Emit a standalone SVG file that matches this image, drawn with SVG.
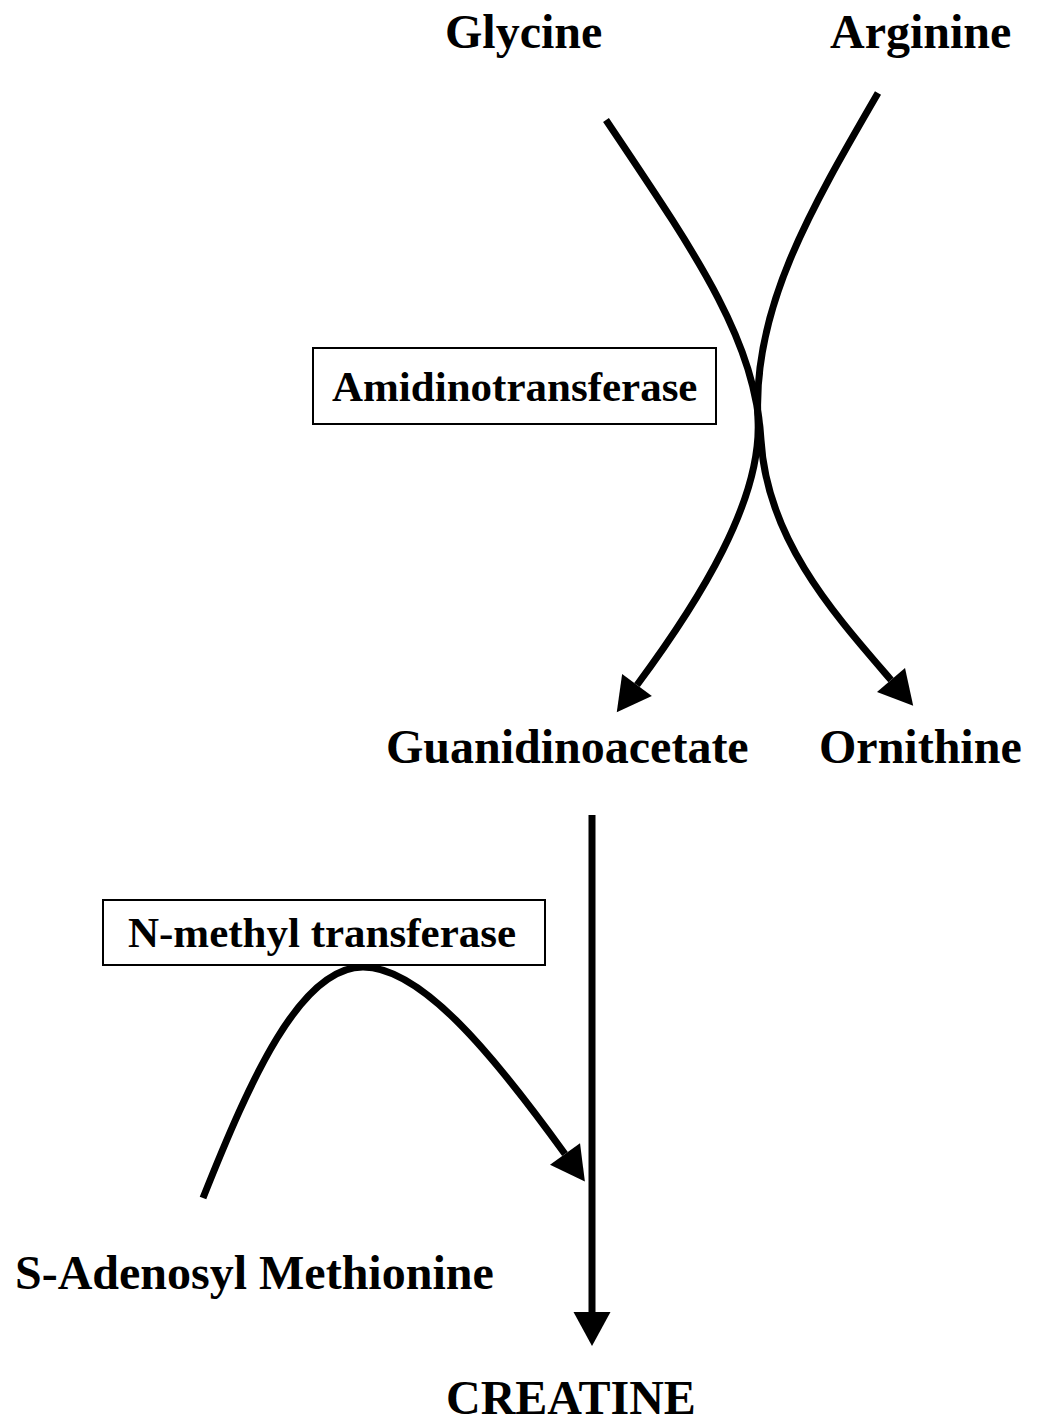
<svg xmlns="http://www.w3.org/2000/svg" width="1037" height="1423" viewBox="0 0 1037 1423">
<style>
.t{font-family:"Liberation Serif","Times New Roman",serif;font-weight:bold;fill:#000}
.big{font-size:48px}
.lab{font-size:43px}
.box{fill:#fff;stroke:#000;stroke-width:2}
.c{fill:none;stroke:#000;stroke-width:7;stroke-linecap:butt}
</style>
<defs>
<marker id="ah" markerUnits="userSpaceOnUse" markerWidth="40" markerHeight="40" refX="0" refY="18.5" orient="auto" overflow="visible">
<path d="M0,0 L34,18.5 L0,37 z" fill="#000"/>
</marker>
</defs>
<rect width="1037" height="1423" fill="#fff"/>
<g id="connectors">
<path id="glycine-ornithine" class="c" d="M606,120 C700,260 755,340 761,440 C767,540 835,615 891,680" marker-end="url(#ah)"/>
<path id="arginine-guanidinoacetate" class="c" d="M878,93 C810,210 752,310 758,420 C762,500 700,600 637,685" marker-end="url(#ah)"/>
<path id="guanidinoacetate-creatine" class="c" d="M592,815 L592,1312" marker-end="url(#ah)"/>
<path id="sam-creatine" class="c" d="M203,1198 C250,1080 300,967 363,967 C420,967 490,1050 565,1154" marker-end="url(#ah)"/>
</g>
<g id="glycine"><text class="t big" x="445" y="48">Glycine</text></g>
<g id="arginine"><text class="t big" x="830" y="48">Arginine</text></g>
<g id="amidinotransferase"><rect class="box" x="313" y="348" width="403" height="76"/><text class="t lab" x="332" y="401">Amidinotransferase</text></g>
<g id="guanidinoacetate"><text class="t big" x="386" y="763">Guanidinoacetate</text></g>
<g id="ornithine"><text class="t big" x="819" y="763">Ornithine</text></g>
<g id="n-methyl-transferase"><rect class="box" x="103" y="900" width="442" height="65"/><text class="t lab" x="128" y="947">N-methyl transferase</text></g>
<g id="sam"><text class="t big" x="15" y="1289">S-Adenosyl Methionine</text></g>
<g id="creatine"><text class="t big" x="446" y="1414">CREATINE</text></g>
</svg>
